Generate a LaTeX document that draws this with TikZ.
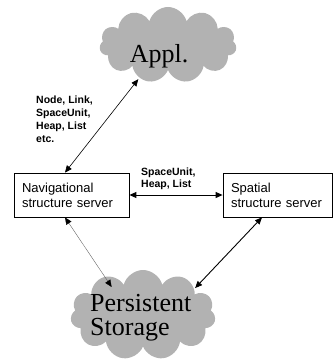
\documentclass[tikz,border=0pt]{standalone}
\usepackage{fontspec}
\setmainfont{Liberation Serif}
\setsansfont{Liberation Sans}
\usetikzlibrary{shapes.symbols,arrows.meta}
\tikzset{
  puff/.style={cloud, cloud puffs=11, aspect=1.8, fill=black!30, inner sep=0pt},
  server/.style={draw, line width=0.8pt, rectangle, align=left, inner xsep=8pt, minimum height=44pt,
    font=\sffamily\fontsize{13}{15}\selectfont},
  tag/.style={inner sep=0pt, align=left, anchor=north west, font=\sffamily\bfseries\fontsize{10.5}{13}\selectfont},
  big/.style={inner sep=0pt, font=\fontsize{26}{24}\selectfont},
  twoway/.style={{Triangle[length=7pt,width=6pt,color=black]}-{Triangle[length=7pt,width=6pt,color=black]}}
}
\begin{document}
\begin{tikzpicture}[x=1pt,y=-1pt]
  \useasboundingbox (0,0) rectangle (333,361);
  \node[puff, minimum width=137pt, minimum height=76pt] (appl) at (168,45) {};
  \node[big, anchor=base] (appltxt) at (159,63) {Appl.};
  \node[puff, minimum width=145pt, minimum height=90pt] (store) at (143,315) {};
  \node[big, align=left, anchor=north west] (storetxt) at (90,294) {Persistent\\Storage};
  \node[server, text width=99pt] (nav) at (71.5,195) {Navigational\\structure server};
  \node[server, text width=93pt] (spatial) at (277.5,195) {Spatial\\structure server};
  \node[tag] (navtag) at (36,95.5) {Node, Link,\\SpaceUnit,\\Heap, List\\etc.};
  \node[tag, font=\sffamily\bfseries\fontsize{10.5}{12}\selectfont] (midtag) at (141,167.5) {SpaceUnit,\\Heap, List};
  \draw[twoway, line width=0.6pt] ([xshift=-6.5pt]nav.north) -- ([xshift=-3pt]appl.232);
  \draw[twoway, line width=0.9pt] (nav.east) -- (spatial.west);
  \draw[twoway, line width=0.4pt, draw=black!60] ([xshift=-6.5pt]nav.south) -- ([xshift=8pt,yshift=-10pt]store.136);
  \draw[twoway, line width=0.9pt] ([xshift=-15.5pt]spatial.south) -- ([xshift=2pt,yshift=-2pt]store.30);
\end{tikzpicture}
\end{document}
